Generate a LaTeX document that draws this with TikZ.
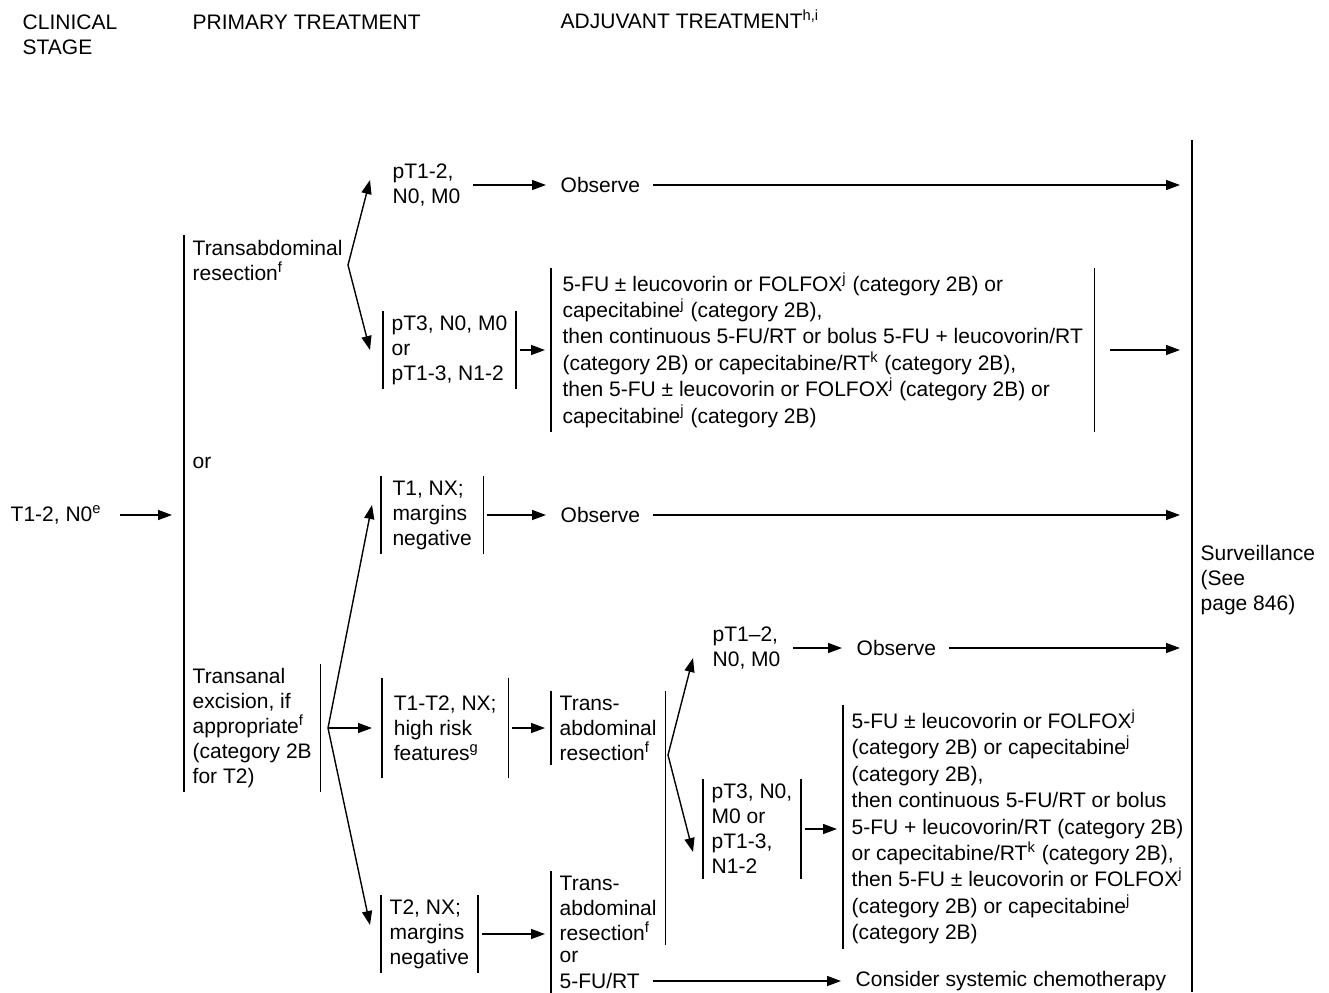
\documentclass[tikz,border=0pt]{standalone}
\usepackage{fontspec}
\setmainfont{Liberation Sans}
\usetikzlibrary{arrows.meta,positioning}
\newcommand{\sidebars}[1]{\draw (#1.north west) -- (#1.south west) (#1.north east) -- (#1.south east);}
\begin{document}
\begin{tikzpicture}[x=0.5pt,y=-0.5pt,line width=0.7pt,>={Triangle[length=7pt,width=5pt]},
  every node/.style={font=\fontsize{10.5}{12.5}\selectfont},
  txt/.style={anchor=west,align=left,inner xsep=4pt,inner ysep=2pt},
  arr/.style={->,shorten <=2pt,shorten >=3pt},
  tosurv/.style={arr,shorten >=6pt},
  regimen/.style={txt,font=\fontsize{10.5}{13.2}\selectfont}]
\useasboundingbox (0,0) rectangle (1329,992);

% headings
\node[txt] (hStage) at (14,35) {CLINICAL\\STAGE};
\node[txt] (hPrimary) at (184,22) {PRIMARY TREATMENT};
\node[txt] (hAdjuvant) at (552,19) {ADJUVANT TREATMENT\textsuperscript{h,i}};

% clinical stage and primary treatment
\node[txt] (stage) at (2,515) {T1-2, N0\textsuperscript{e}};
\node[txt] (transabd) at (184,260) {Transabdominal\\resection\textsuperscript{f}};
\node[txt] (orA) at (184,463) {or};
\node[txt] (transanal) at (184,728) {Transanal\\excision, if\\appropriate\textsuperscript{f}\\(category 2B\\for T2)};
\draw (transabd.north west) -- (transanal.south west);
\draw (transanal.north east) -- (transanal.south east);
\draw[tosurv,shorten <=5pt] (stage) -- (stage -| transabd.west);

% surveillance
\node[txt] (surv) at (1192,580) {Surveillance\\(See\\page 846)};
\coordinate (survTop) at (surv.west |- 0,140);
\coordinate (survBot) at (surv.west |- 0,992);
\draw (survTop) -- (survBot);

% after transabdominal resection
\node[txt] (pOk) at (384,185) {pT1-2,\\N0, M0};
\node[txt] (observeA) at (552,185) {Observe};
\node[txt] (pBad) at (383,350) {pT3, N0, M0\\or\\pT1-3, N1-2};
\node[regimen,minimum width=271pt] (chemoA) at (551,350) {5-FU ± leucovorin or FOLFOX\textsuperscript{j} (category 2B) or\\capecitabine\textsuperscript{j} (category 2B),\\then continuous 5-FU/RT or bolus 5-FU + leucovorin/RT\\(category 2B) or capecitabine/RT\textsuperscript{k} (category 2B),\\then 5-FU ± leucovorin or FOLFOX\textsuperscript{j} (category 2B) or\\capecitabine\textsuperscript{j} (category 2B)};
\coordinate (tabFork) at (348,265);
\draw[->] (tabFork) -- ([shift={(-14,-5)}]pOk.west);
\draw[->] (tabFork) -- ([shift={(-13,0)}]pBad.west);
\draw[arr] (pOk) -- (pOk -| observeA.west);
\draw[tosurv] (observeA) -- (observeA -| surv.west);
\draw[arr] (pBad) -- (pBad -| chemoA.west);
\draw[tosurv,shorten <=8pt] (chemoA) -- (chemoA -| surv.west);
\sidebars{pBad}
\sidebars{chemoA}

% after transanal excision
\node[txt,minimum width=50.5pt] (t1Neg) at (381,515) {T1, NX;\\margins\\negative};
\node[txt] (observeB) at (552,515) {Observe};
\node[txt,minimum width=62.5pt,minimum height=49.5pt] (hiRisk) at (382,728) {T1-T2, NX;\\high risk\\features\textsuperscript{g}};
\node[txt] (t2Neg) at (381,934) {T2, NX;\\margins\\negative};
\node[txt] (taResA) at (551,728) {Trans-\\abdominal\\resection\textsuperscript{f}};
\node[txt] (taResB) at (551,908) {Trans-\\abdominal\\resection\textsuperscript{f}};
\node[txt] (orB) at (551,957) {or};
\node[txt] (fuRT) at (551,981) {5-FU/RT};
\node[txt] (consider) at (847,981) {Consider systemic chemotherapy};
\coordinate (taFork) at (328,728);
\draw[->] (taFork) -- ([shift={(-9,-10)}]t1Neg.west);
\draw[->] (taFork) -- ([shift={(-10,0)}]hiRisk.west);
\draw[->] (taFork) -- ([shift={(-11,-9)}]t2Neg.west);
\draw[arr] (t1Neg) -- (t1Neg -| observeB.west);
\draw[tosurv] (observeB) -- (observeB -| surv.west);
\draw[arr] (hiRisk) -- (hiRisk -| taResA.west);
\draw[arr] (t2Neg) -- (t2Neg -| taResB.west);
\draw[arr] (fuRT) -- (fuRT -| consider.west);
\sidebars{t1Neg}
\sidebars{hiRisk}
\sidebars{t2Neg}
\draw (taResA.north west) -- (taResA.south west);
\draw (taResA.north east) -- (taResB.south east);
\draw (taResB.north west) -- (taResB.west |- fuRT.south);

% after trans-abdominal resection
\node[txt] (pOkB) at (704,648) {pT1--2,\\N0, M0};
\node[txt] (observeC) at (848,648) {Observe};
\node[txt] (pBadB) at (703,829) {pT3, N0,\\M0 or\\pT1-3,\\N1-2};
\node[regimen] (chemoB) at (843,827) {5-FU ± leucovorin or FOLFOX\textsuperscript{j}\\(category 2B) or capecitabine\textsuperscript{j}\\(category 2B),\\then continuous 5-FU/RT or bolus\\5-FU + leucovorin/RT (category 2B)\\or capecitabine/RT\textsuperscript{k} (category 2B),\\then 5-FU ± leucovorin or FOLFOX\textsuperscript{j}\\(category 2B) or capecitabine\textsuperscript{j}\\(category 2B)};
\coordinate (trFork) at (668,755);
\draw[->] (trFork) -- ([shift={(-11,10)}]pOkB.west);
\draw[->] (trFork) -- ([shift={(-10,23)}]pBadB.west);
\draw[arr] (pOkB) -- (pOkB -| observeC.west);
\draw[tosurv] (observeC) -- (observeC -| surv.west);
\draw[arr] (pBadB) -- (pBadB -| chemoB.west);
\sidebars{pBadB}
\draw (chemoB.north west) -- (chemoB.south west);
\end{tikzpicture}
\end{document}
